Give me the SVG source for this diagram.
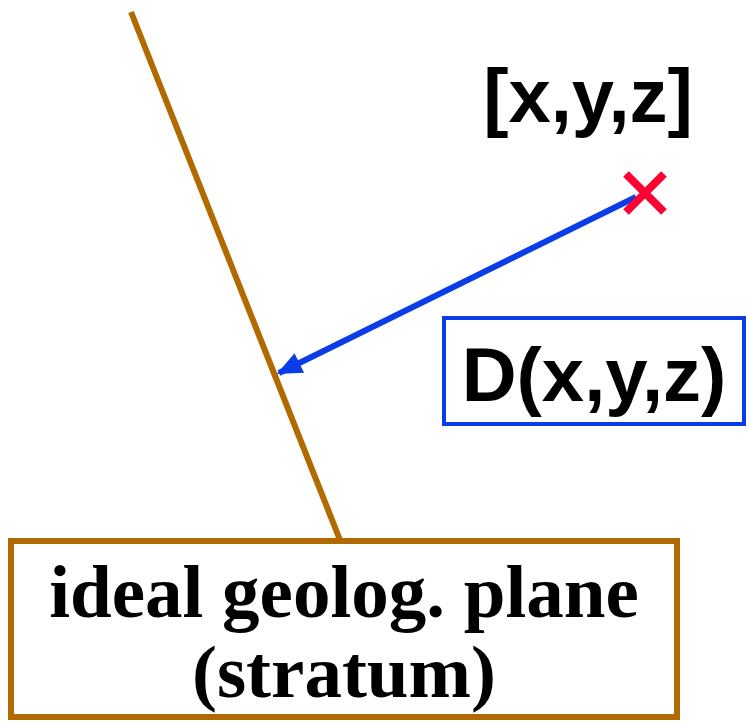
<svg xmlns="http://www.w3.org/2000/svg" width="747" height="721" viewBox="0 0 747 721">
<style>
.brown{stroke:#b06a00;fill:none;stroke-width:6}
.blue{stroke:#0a3de8;fill:none}
.sans{font-family:"Liberation Sans",Arial,sans-serif;font-weight:bold;fill:#000}
.serif{font-family:"Liberation Serif","Times New Roman",serif;font-weight:bold;fill:#000}
</style>
<defs>
<marker id="ah" viewBox="0 0 10 10" refX="9" refY="5" markerWidth="4.2" markerHeight="3.6" orient="auto" markerUnits="strokeWidth" preserveAspectRatio="none">
<path d="M0,0 L10,5 L0,10 z" fill="#0a3de8"/>
</marker>
</defs>
<g id="connectors">
<line class="brown" x1="131" y1="12" x2="340" y2="540"/>
<line class="blue" stroke-width="6" x1="636" y1="197" x2="279" y2="373" marker-end="url(#ah)"/>
</g>
<g id="point">
<path d="M626,174 L664,212 M664,174 L626,212" stroke="#ff0033" stroke-width="8" fill="none"/>
</g>
<g id="coords-label">
<text class="sans" x="588" y="122" font-size="76" text-anchor="middle">[x,y,z]</text>
</g>
<g id="distance">
<rect class="blue" stroke-width="4" x="444" y="318" width="300" height="106"/>
<text class="sans" x="594" y="401" font-size="76" text-anchor="middle">D(x,y,z)</text>
</g>
<g id="plane">
<rect class="brown" stroke-width="6" x="11" y="541" width="666" height="176" fill="#fff"/>
<text class="serif" x="344" y="617" font-size="75" text-anchor="middle">ideal geolog. plane</text>
<text class="serif" x="344" y="697" font-size="75" text-anchor="middle">(stratum)</text>
</g>
</svg>
